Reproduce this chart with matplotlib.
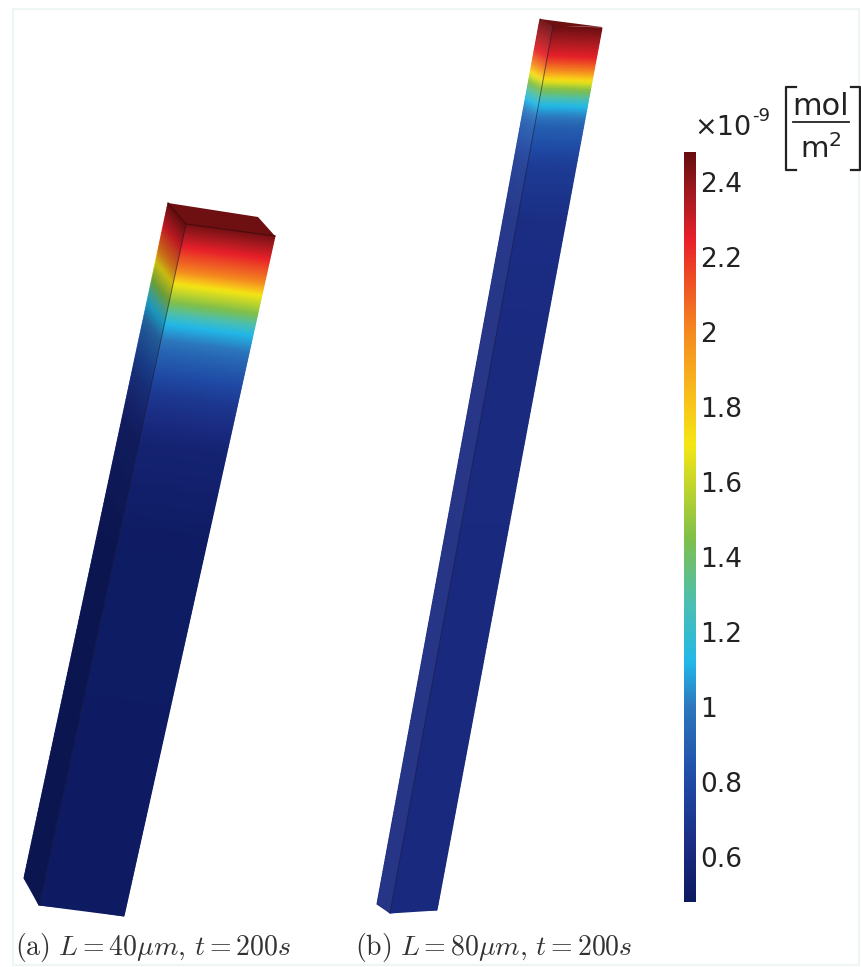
import numpy as np
import matplotlib
matplotlib.use('Agg')
from matplotlib import pyplot as plt
from matplotlib.colors import LinearSegmentedColormap, Normalize
from matplotlib.cm import ScalarMappable
from matplotlib.patches import Polygon

plt.rcParams['font.family'] = 'DejaVu Sans'
plt.rcParams['mathtext.fontset'] = 'cm'

cbar_values = [0.48, 0.62, 0.80, 1.00, 1.12, 1.28, 1.45, 1.70, 1.85, 2.00, 2.25, 2.36, 2.48]
cbar_colors = ['#0d1a60', '#1a2a80', '#1f4aa5', '#2c77bd', '#22b8e8', '#4dbfb0', '#7fbf4a',
               '#f5e614', '#f8b81c', '#f58a1f', '#e8202a', '#a81a20', '#650d10']
cbar_ticks = [0.6, 0.8, 1, 1.2, 1.4, 1.6, 1.8, 2, 2.2, 2.4]
cbar_labels = ['0.6', '0.8', '1', '1.2', '1.4', '1.6', '1.8', '2', '2.2', '2.4']

# perfil de concentracao ao longo de cada barra (0 = topo, 1 = base)
pos_a = [0.00, 0.034, 0.069, 0.088, 0.115, 0.147, 0.187, 0.25, 0.32, 0.45, 1.00]
conc_a = [2.45, 2.25, 2.00, 1.70, 1.45, 1.12, 0.92, 0.70, 0.56, 0.50, 0.49]
pos_b = [0.00, 0.034, 0.05, 0.069, 0.09, 0.113, 0.158, 0.22, 0.35, 1.00]
conc_b = [2.47, 2.25, 2.00, 1.50, 1.12, 0.90, 0.72, 0.64, 0.62, 0.61]

# faces das barras em pixels da imagem: sup. esq., sup. dir., inf. dir., inf. esq.
front_a = [(186, 224), (275, 236), (124, 916), (39, 905)]
side_a = [(168, 203), (186, 224), (39, 905), (24, 878)]
top_a = [(168, 203), (258, 217), (275, 236), (186, 224)]
front_b = [(553, 26), (602, 28), (437, 910), (390, 913)]
side_b = [(540, 19), (553, 26), (390, 913), (377, 904)]
top_b = [(540, 19), (602, 27), (553, 26)]

cmap = LinearSegmentedColormap.from_list(
    'conc', [((v - 0.48) / 2.0, c) for v, c in zip(cbar_values, cbar_colors)], N=512)
norm = Normalize(0.48, 2.48)


def draw_face(ax, corners, pos, conc, overlay=None):
    tl, tr, br, bl = [np.array(c, dtype=float) for c in corners]
    v = np.linspace(0, 1, 300)
    u = np.array([0.0, 1.0])
    uu, vv = np.meshgrid(u, v)
    x = (1 - vv) * ((1 - uu) * tl[0] + uu * tr[0]) + vv * ((1 - uu) * bl[0] + uu * br[0])
    y = (1 - vv) * ((1 - uu) * tl[1] + uu * tr[1]) + vv * ((1 - uu) * bl[1] + uu * br[1])
    c = np.interp(vv, pos, conc)
    ax.pcolormesh(x, y, c, cmap=cmap, norm=norm, shading='gouraud', zorder=2)
    if overlay is not None:
        ax.add_patch(Polygon(corners, closed=True, facecolor=overlay[0], alpha=overlay[1],
                             edgecolor='none', zorder=3))


fig = plt.figure(figsize=(8.62, 9.67), dpi=100)
ax = fig.add_axes([0, 0, 1, 1])
ax.set_xlim(0, 862)
ax.set_ylim(967, 0)
ax.axis('off')

# moldura clara da figura original
ax.add_patch(Polygon([(13, 9), (859, 9), (859, 965), (13, 965)], closed=True,
                     facecolor='white', edgecolor='#eef5f5', linewidth=1.5, zorder=1))

# barra (a)
draw_face(ax, side_a, pos_a, conc_a, overlay=('black', 0.18))
draw_face(ax, front_a, pos_a, conc_a)
ax.add_patch(Polygon(top_a, closed=True, facecolor='#6e0f12', edgecolor='none', zorder=3))
ax.plot([front_a[0][0], front_a[3][0]], [front_a[0][1], front_a[3][1]],
        color='#1a1a30', linewidth=0.7, alpha=0.6, zorder=4)
ax.plot([top_a[0][0], top_a[3][0], top_a[2][0]], [top_a[0][1], top_a[3][1], top_a[2][1]],
        color='#4a0a0c', linewidth=0.8, zorder=4)

# barra (b)
draw_face(ax, side_b, pos_b, conc_b, overlay=('white', 0.06))
draw_face(ax, front_b, pos_b, conc_b)
ax.add_patch(Polygon(top_b, closed=True, facecolor='#6e0f12', edgecolor='none', zorder=3))
ax.plot([front_b[0][0], front_b[3][0]], [front_b[0][1], front_b[3][1]],
        color='#1a1a40', linewidth=0.7, alpha=0.6, zorder=4)

# legendas das subfiguras
ax.text(15, 948, r'$\mathrm{(a)}\ L=40\mu m,\,t=200s$', fontsize=20, color='#333333',
        ha='left', va='center')
ax.text(355, 948, r'$\mathrm{(b)}\ L=80\mu m,\,t=200s$', fontsize=20, color='#333333',
        ha='left', va='center')

# unidade acima da barra de cor
ax.text(694, 135, '\u00d710', fontsize=19.5, color='#222222', ha='left', va='baseline')
ax.text(752, 121, '-9', fontsize=13, color='#222222', ha='left', va='baseline')
ax.text(820.5, 115, 'mol', fontsize=22, color='#222222', ha='center', va='baseline')
ax.text(820.5, 158, 'm$^{2}$', fontsize=21, color='#222222', ha='center', va='baseline',
        math_fontfamily='dejavusans')
ax.plot([793, 849], [122, 122], color='#222222', linewidth=1.3)
ax.plot([796, 786, 786, 796], [87, 87, 170, 170], color='#222222', linewidth=1.6)
ax.plot([851, 860, 860, 851], [87, 87, 170, 170], color='#222222', linewidth=1.6)

# barra de cor
cax = fig.add_axes([684 / 862, (967 - 902) / 967, 12 / 862, 750 / 967])
cb = fig.colorbar(ScalarMappable(norm=norm, cmap=cmap), cax=cax, ticks=cbar_ticks)
cb.ax.set_yticklabels(cbar_labels)
cb.ax.tick_params(length=0, pad=3, labelsize=19, labelcolor='#222222')
cb.outline.set_visible(False)

fig.savefig('out.png', dpi=100)
